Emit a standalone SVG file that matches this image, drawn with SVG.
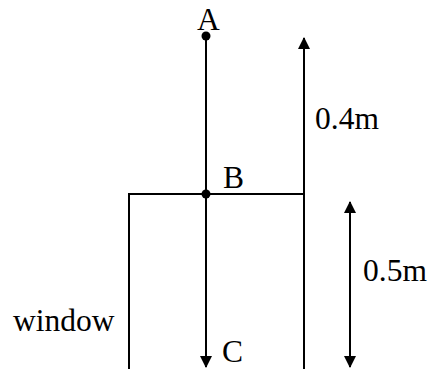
<svg xmlns="http://www.w3.org/2000/svg" width="431" height="369" viewBox="0 0 431 369">
<style>
.ln{stroke:#000;stroke-width:2;fill:none}
.t{font-family:"Liberation Serif","Times New Roman",serif;font-size:31.5px;fill:#000}
</style>
<defs>
<marker id="ah" viewBox="0 0 12 12" refX="11" refY="6" markerWidth="12" markerHeight="12" markerUnits="userSpaceOnUse" orient="auto-start-reverse">
<path d="M0,0 L12,6 L0,12 Z" fill="#000"/>
</marker>
</defs>
<rect width="431" height="369" fill="#fff"/>
<g id="window">
<path class="ln" d="M129,369 V194 H304 V369"/>
<text class="t" x="13" y="331">window</text>
</g>
<g id="A">
<circle cx="206" cy="36" r="4.5" fill="#000"/>
<text class="t" x="197" y="30">A</text>
</g>
<g id="B">
<circle cx="206" cy="194" r="4.5" fill="#000"/>
<text class="t" x="223" y="188">B</text>
</g>
<g id="C">
<text class="t" x="222" y="362">C</text>
</g>
<g id="dim04">
<text class="t" x="315" y="129">0.4m</text>
</g>
<g id="dim05">
<text class="t" x="363" y="281">0.5m</text>
</g>
<g id="connectors">
<line class="ln" x1="206" y1="36" x2="206" y2="367" marker-end="url(#ah)"/>
<line class="ln" x1="304" y1="194" x2="304" y2="38" marker-end="url(#ah)"/>
<line class="ln" x1="350" y1="202" x2="350" y2="367" marker-start="url(#ah)" marker-end="url(#ah)"/>
</g>
</svg>
